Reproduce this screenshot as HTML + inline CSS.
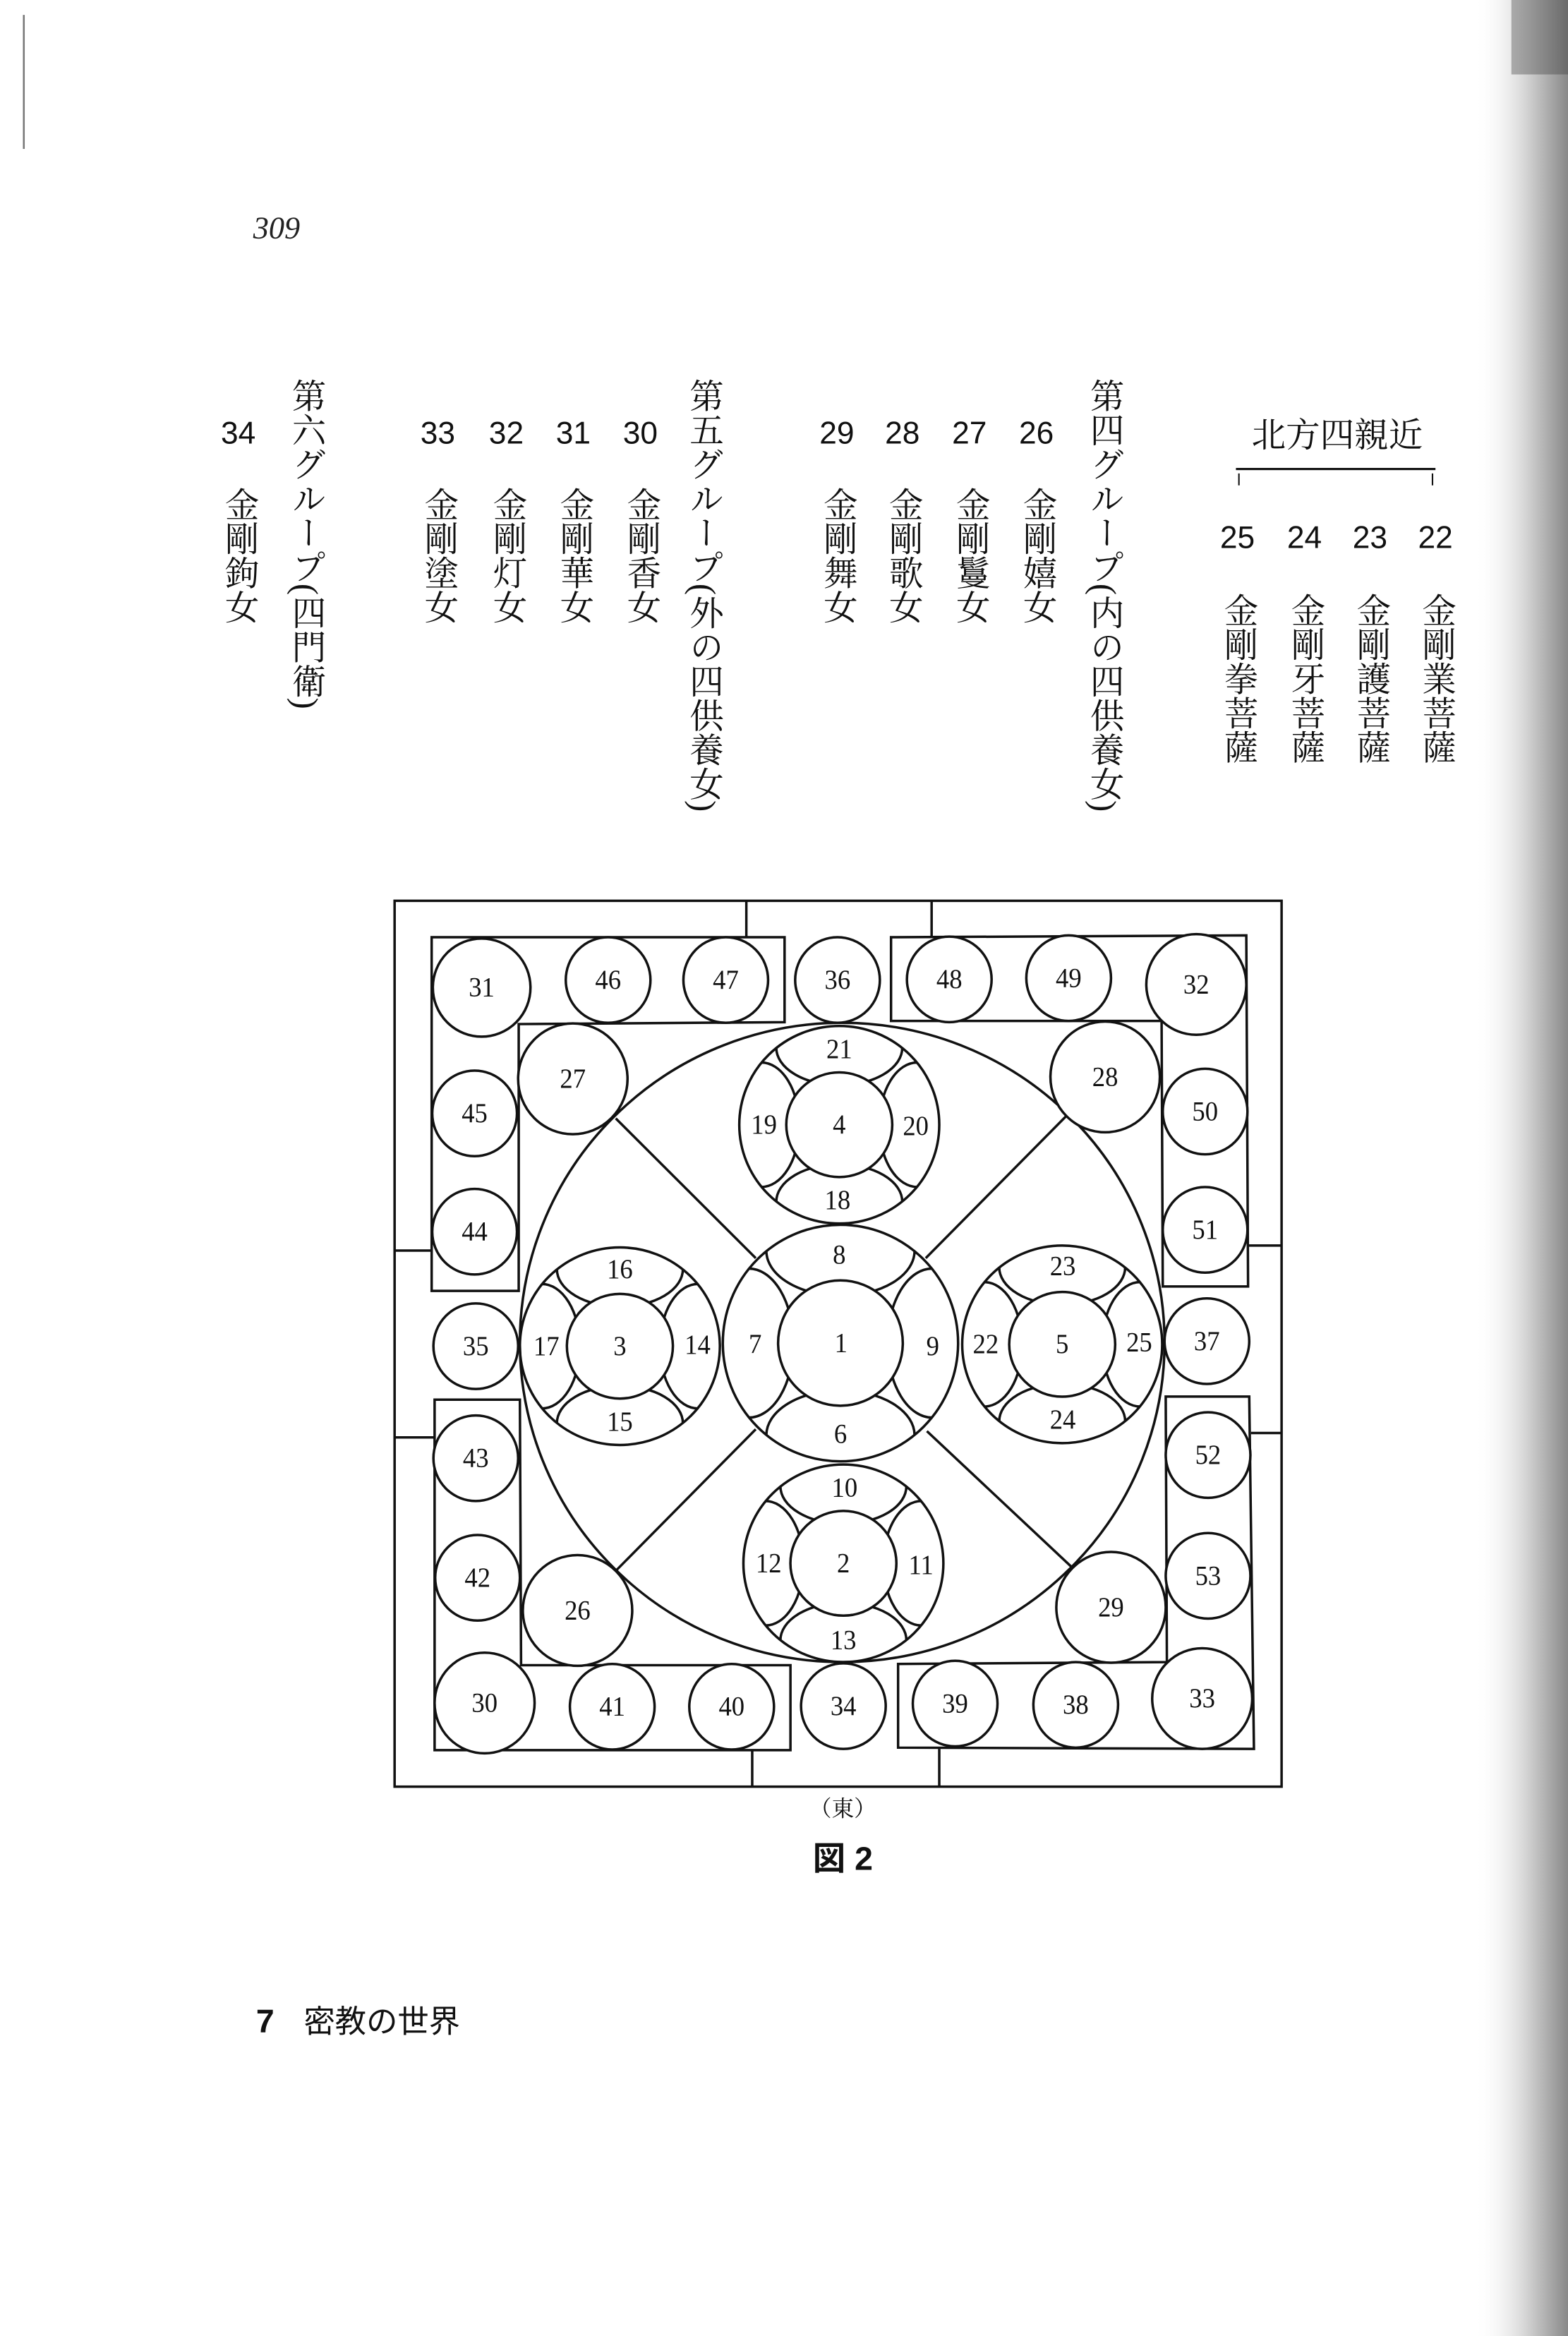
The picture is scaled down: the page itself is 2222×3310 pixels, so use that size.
<!DOCTYPE html>
<html><head><meta charset="utf-8"><style>
html,body{margin:0;padding:0;background:#fff;}
svg{display:block;}
.v{writing-mode:vertical-rl;font-family:"Liberation Serif","Noto Serif CJK SC","Noto Sans CJK JP",serif;font-size:23px;fill:#111;}
.n{font-family:"Liberation Sans",sans-serif;font-size:21px;fill:#111;text-anchor:middle;}
.d text{font-family:"Liberation Serif",serif;font-size:44px;fill:#111;text-anchor:middle;dominant-baseline:central;}
.d ellipse,.d circle,.d path,.d line,.d rect,.d polygon{vector-effect:non-scaling-stroke;}
</style></head><body>
<svg width="2222" height="3310" viewBox="0 0 1053 1569" preserveAspectRatio="none" xmlns="http://www.w3.org/2000/svg">
<defs>
<linearGradient id="edge" x1="0" x2="1" y1="0" y2="0">
<stop offset="0" stop-color="#fff" stop-opacity="0"/>
<stop offset="0.6" stop-color="#ccc"/>
<stop offset="1" stop-color="#888"/>
</linearGradient>
<clipPath id="fc"><circle cx="0" cy="0" r="100"/></clipPath>
<g id="flower">
<g clip-path="url(#fc)" fill="none" stroke="#111" stroke-width="3.5">
<ellipse cx="0" cy="-78" rx="63" ry="38" vector-effect="non-scaling-stroke"/>
<ellipse cx="0" cy="78" rx="63" ry="38" vector-effect="non-scaling-stroke"/>
<ellipse cx="-78" cy="0" rx="38" ry="63" vector-effect="non-scaling-stroke"/>
<ellipse cx="78" cy="0" rx="38" ry="63" vector-effect="non-scaling-stroke"/>
</g>
<circle cx="0" cy="0" r="53" fill="#fff" stroke="#111" stroke-width="3.5" vector-effect="non-scaling-stroke"/>
<circle cx="0" cy="0" r="100" fill="none" stroke="#111" stroke-width="3.5" vector-effect="non-scaling-stroke"/>
</g>
</defs>
<rect x="0" y="0" width="1053" height="1569" fill="#fff"/>
<rect x="990" y="0" width="63" height="1569" fill="url(#edge)"/>
<rect x="1015" y="0" width="38" height="50" fill="#333" opacity="0.35"/>
<line x1="16" y1="10" x2="16" y2="100" stroke="#777" stroke-width="1.2"/>

<text x="170" y="160" font-family="Liberation Serif,serif" font-style="italic" font-size="21" fill="#222">309</text>

<text x="898" y="300" font-family="Liberation Serif,'Noto Serif CJK SC',serif" font-size="23" fill="#111" text-anchor="middle">北方四親近</text>
<line x1="830" y1="315" x2="964" y2="315" stroke="#111" stroke-width="1.5"/>
<line x1="832" y1="318" x2="832" y2="326" stroke="#111" stroke-width="1"/>
<line x1="962" y1="318" x2="962" y2="326" stroke="#111" stroke-width="1"/>
<text class="n" x="964" y="368">22</text>
<text class="n" x="920" y="368">23</text>
<text class="n" x="876" y="368">24</text>
<text class="n" x="831" y="368">25</text>
<text class="v" x="964" y="398">金剛業菩薩</text>
<text class="v" x="920" y="398">金剛護菩薩</text>
<text class="v" x="876" y="398">金剛牙菩薩</text>
<text class="v" x="831" y="398">金剛拳菩薩</text>

<text class="v" x="741" y="254">第四グループ(内の四供養女)</text>
<text class="n" x="696" y="298">26</text>
<text class="n" x="651" y="298">27</text>
<text class="n" x="606" y="298">28</text>
<text class="n" x="562" y="298">29</text>
<text class="v" x="696" y="327">金剛嬉女</text>
<text class="v" x="651" y="327">金剛鬘女</text>
<text class="v" x="606" y="327">金剛歌女</text>
<text class="v" x="562" y="327">金剛舞女</text>

<text class="v" x="472" y="254">第五グループ(外の四供養女)</text>
<text class="n" x="430" y="298">30</text>
<text class="n" x="385" y="298">31</text>
<text class="n" x="340" y="298">32</text>
<text class="n" x="294" y="298">33</text>
<text class="v" x="430" y="327">金剛香女</text>
<text class="v" x="385" y="327">金剛華女</text>
<text class="v" x="340" y="327">金剛灯女</text>
<text class="v" x="294" y="327">金剛塗女</text>

<text class="v" x="205" y="254">第六グループ(四門衛)</text>
<text class="n" x="160" y="298">34</text>
<text class="v" x="160" y="327">金剛鉤女</text>

<g class="d" transform="translate(265,605) scale(0.395,0.4226) translate(-22,-22)" stroke="#111" stroke-width="3.5" fill="none">
<rect x="22" y="22" width="1508" height="1408"/>
<line x1="620" y1="22" x2="620" y2="80"/>
<line x1="935" y1="22" x2="935" y2="78"/>
<line x1="22" y1="578" x2="85" y2="578"/>
<line x1="22" y1="875" x2="90" y2="875"/>
<line x1="1473" y1="570" x2="1530" y2="570"/>
<line x1="1478" y1="868" x2="1530" y2="868"/>
<line x1="630" y1="1372" x2="630" y2="1430"/>
<line x1="948" y1="1370" x2="948" y2="1430"/>
<polygon points="85,80 685,80 685,215 233,218 233,642 85,642"/>
<polygon points="866,80 1470,77 1473,635 1328,635 1326,213 866,213"/>
<polygon points="90,815 235,815 237,1237 695,1237 695,1372 90,1372"/>
<polygon points="1333,810 1475,810 1483,1370 878,1368 878,1235 1335,1232"/>
<ellipse cx="783" cy="724" rx="548" ry="508"/>
<line x1="398" y1="368" x2="636" y2="590"/>
<line x1="1163" y1="365" x2="925" y2="590"/>
<line x1="398" y1="1087" x2="636" y2="862"/>
<line x1="1172" y1="1080" x2="927" y2="865"/>

<use href="#flower" transform="translate(780,725) scale(2,1.88)"/>
<use href="#flower" transform="translate(778,378) scale(1.7,1.57)"/>
<use href="#flower" transform="translate(405,730) scale(1.7,1.57)"/>
<use href="#flower" transform="translate(1157,727) scale(1.7,1.57)"/>
<use href="#flower" transform="translate(785,1075) scale(1.7,1.57)"/>

<g fill="#fff">
<ellipse cx="170" cy="160" rx="83" ry="78"/>
<ellipse cx="385" cy="148" rx="72" ry="68"/>
<ellipse cx="585" cy="148" rx="72" ry="68"/>
<ellipse cx="775" cy="148" rx="72" ry="68"/>
<ellipse cx="965" cy="147" rx="72" ry="68"/>
<ellipse cx="1168" cy="145" rx="72" ry="68"/>
<ellipse cx="1385" cy="155" rx="85" ry="80"/>
<ellipse cx="325" cy="305" rx="93" ry="88"/>
<ellipse cx="1230" cy="302" rx="93" ry="88"/>
<ellipse cx="158" cy="360" rx="72" ry="68"/>
<ellipse cx="1400" cy="357" rx="72" ry="68"/>
<ellipse cx="158" cy="548" rx="72" ry="68"/>
<ellipse cx="1400" cy="545" rx="72" ry="68"/>
<ellipse cx="160" cy="730" rx="72" ry="68"/>
<ellipse cx="1403" cy="722" rx="72" ry="68"/>
<ellipse cx="160" cy="908" rx="72" ry="68"/>
<ellipse cx="1405" cy="903" rx="72" ry="68"/>
<ellipse cx="163" cy="1098" rx="72" ry="68"/>
<ellipse cx="1405" cy="1095" rx="72" ry="68"/>
<ellipse cx="333" cy="1150" rx="93" ry="88"/>
<ellipse cx="1240" cy="1145" rx="93" ry="88"/>
<ellipse cx="175" cy="1297" rx="85" ry="80"/>
<ellipse cx="392" cy="1303" rx="72" ry="68"/>
<ellipse cx="595" cy="1303" rx="72" ry="68"/>
<ellipse cx="785" cy="1302" rx="72" ry="68"/>
<ellipse cx="975" cy="1298" rx="72" ry="68"/>
<ellipse cx="1180" cy="1300" rx="72" ry="68"/>
<ellipse cx="1395" cy="1290" rx="85" ry="80"/>
</g>
<g stroke="none">
<text x="170" y="160">31</text><text x="385" y="148">46</text><text x="585" y="148">47</text>
<text x="775" y="148">36</text><text x="965" y="147">48</text><text x="1168" y="145">49</text>
<text x="1385" y="155">32</text><text x="325" y="305">27</text><text x="1230" y="302">28</text>
<text x="158" y="360">45</text><text x="1400" y="357">50</text><text x="158" y="548">44</text>
<text x="1400" y="545">51</text><text x="160" y="730">35</text><text x="1403" y="722">37</text>
<text x="160" y="908">43</text><text x="1405" y="903">52</text><text x="163" y="1098">42</text>
<text x="1405" y="1095">53</text><text x="333" y="1150">26</text><text x="1240" y="1145">29</text>
<text x="175" y="1297">30</text><text x="392" y="1303">41</text><text x="595" y="1303">40</text>
<text x="785" y="1302">34</text><text x="975" y="1298">39</text><text x="1180" y="1300">38</text>
<text x="1395" y="1290">33</text>
<text x="781" y="725">1</text><text x="778" y="585">8</text><text x="780" y="870">6</text>
<text x="635" y="727">7</text><text x="937" y="730">9</text>
<text x="778" y="378">4</text><text x="778" y="258">21</text><text x="775" y="498">18</text>
<text x="650" y="378">19</text><text x="908" y="380">20</text>
<text x="405" y="730">3</text><text x="405" y="608">16</text><text x="405" y="850">15</text>
<text x="280" y="730">17</text><text x="537" y="728">14</text>
<text x="1157" y="727">5</text><text x="1158" y="603">23</text><text x="1158" y="847">24</text>
<text x="1027" y="727">22</text><text x="1288" y="724">25</text>
<text x="785" y="1075">2</text><text x="787" y="955">10</text><text x="785" y="1197">13</text>
<text x="658" y="1075">12</text><text x="917" y="1078">11</text>
</g>
</g>

<text x="566" y="1220" font-family="Liberation Serif,'Noto Serif CJK SC',serif" font-size="15" fill="#111" text-anchor="middle">（東）</text>
<text x="566" y="1256" font-family="Liberation Sans,'Noto Sans CJK JP',sans-serif" font-weight="bold" font-size="22" fill="#111" text-anchor="middle">図 2</text>

<text x="172" y="1365" font-family="Liberation Sans,sans-serif" font-weight="bold" font-size="22" fill="#111">7</text>
<text x="204" y="1365" font-family="Liberation Sans,'Noto Sans CJK JP',sans-serif" font-size="21" fill="#111">密教の世界</text>
</svg>
</body></html>
